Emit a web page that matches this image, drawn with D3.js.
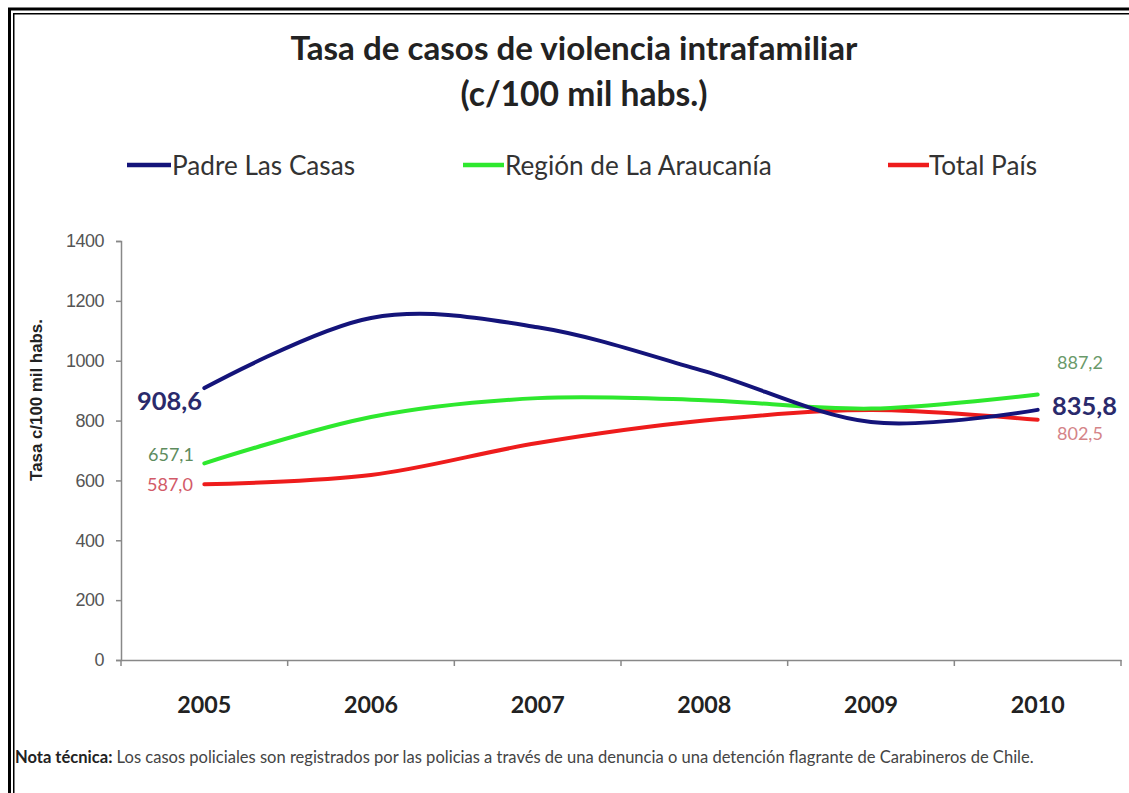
<!DOCTYPE html>
<html><head><meta charset="utf-8">
<script src="https://cdn.jsdelivr.net/npm/d3@7"></script>
<style>html,body{margin:0;padding:0;background:#fff;overflow:hidden}</style>
</head><body>
<svg id="c" width="1129" height="793"></svg>
<script>
const years = ["2005","2006","2007","2008","2009","2010"];
const padreLasCasas = [908.6, 1143, 1112, 965, 795, 835.8];
const regionAraucania = [657.1, 812, 875, 868, 840, 887.2];
const totalPais = [587.0, 618, 725, 800, 835, 802.5];
const seriesNames = ["Padre Las Casas", "Región de La Araucanía", "Total País"];
const yTicks = [0, 200, 400, 600, 800, 1000, 1200, 1400];
const startLabels = ["908,6", "657,1", "587,0"];
const endLabels = ["835,8", "887,2", "802,5"];

const svg = d3.select("#c");
const W = 1129, H = 793;
const FONT = "Lato, 'Open Sans', sans-serif";

function fit(sel, w) {
  const n = sel.node();
  const cur = parseFloat(sel.attr("font-size"));
  const len = n.getComputedTextLength();
  if (len > 0) sel.attr("font-size", (cur * w / len).toFixed(2));
  return sel;
}

// border
svg.append("rect").attr("x", 9.5).attr("y", 9).attr("width", W + 20).attr("height", H + 20)
  .attr("fill", "none").attr("stroke", "#000").attr("stroke-width", 3);
svg.append("rect").attr("x", 13.75).attr("y", 13.75).attr("width", W + 20).attr("height", H + 20)
  .attr("fill", "none").attr("stroke", "#000").attr("stroke-width", 1.5);

// title
fit(svg.append("text").attr("x", 574).attr("y", 47).attr("text-anchor", "middle")
  .attr("dominant-baseline", "central").attr("font-family", FONT).attr("font-weight", "bold")
  .attr("font-size", 27).attr("fill", "#222").text("Tasa de casos de violencia intrafamiliar"), 567);
fit(svg.append("text").attr("x", 584).attr("y", 93).attr("text-anchor", "middle")
  .attr("dominant-baseline", "central").attr("font-family", FONT).attr("font-weight", "bold")
  .attr("font-size", 27).attr("fill", "#222").text("(c/100 mil habs.)"), 247);

const x = d3.scaleBand().domain(years).range([121, 1121]);
const y = d3.scaleLinear().domain([0, 1400]).range([660, 241]);

const colors = ["#14147a", "#2ee82e", "#ee1c1c"];
const data = [padreLasCasas, regionAraucania, totalPais];

// legend
const t0 = fit(svg.append("text").attr("x", 172).attr("y", 165).attr("dominant-baseline", "central")
  .attr("font-family", FONT).attr("font-size", 22).attr("fill", "#333").text(seriesNames[0]), 183);
const lfs = t0.attr("font-size");
svg.append("text").attr("x", 505).attr("y", 165).attr("dominant-baseline", "central")
  .attr("font-family", FONT).attr("font-size", lfs).attr("fill", "#333").text(seriesNames[1]);
const t2 = svg.append("text").attr("x", 1037).attr("y", 165).attr("dominant-baseline", "central")
  .attr("text-anchor", "end").attr("font-family", FONT).attr("font-size", lfs).attr("fill", "#333").text(seriesNames[2]);
const t2start = 1037 - t2.node().getComputedTextLength();
const legendLines = [[127, 171], [463, 504], [t2start - 41, t2start]];
legendLines.forEach((l, i) => {
  svg.append("line").attr("x1", l[0]).attr("x2", l[1]).attr("y1", 165).attr("y2", 165)
    .attr("stroke", colors[i]).attr("stroke-width", 4.5);
});

// y axis
const yAxis = svg.append("g").attr("transform", "translate(121,0)")
  .call(d3.axisLeft(y).tickValues(yTicks).tickSize(5).tickPadding(12).tickFormat(d3.format("d")));
yAxis.select(".domain").attr("stroke", "#888").attr("stroke-width", 1.5);
yAxis.selectAll(".tick line").attr("stroke", "#888").attr("stroke-width", 1.5);
yAxis.selectAll(".tick text").attr("font-family", "'Liberation Sans', Arial, sans-serif")
  .attr("font-size", 16).attr("fill", "#555");
{
  const n = yAxis.select(".tick:last-of-type text").node();
  const len = n.getComputedTextLength();
  yAxis.selectAll(".tick text").attr("font-size", (16 * 40 / len).toFixed(2)).attr("letter-spacing", "-0.5");
}

// x axis
const xAxis = svg.append("g").attr("transform", "translate(0,660)")
  .call(d3.axisBottom(x).tickSize(0).tickPadding(0).tickFormat(""));
xAxis.select(".domain").attr("stroke", "#888").attr("stroke-width", 1.5);
xAxis.selectAll(".tick").remove();
const bounds = years.map(d => x(d)).concat([x.range()[1]]);
xAxis.selectAll("line.b").data(bounds).join("line").attr("class", "b")
  .attr("x1", d => d).attr("x2", d => d).attr("y1", 0).attr("y2", 6)
  .attr("stroke", "#888").attr("stroke-width", 1.5);
years.forEach(yr => {
  fit(svg.append("text").attr("x", x(yr) + x.bandwidth() / 2).attr("y", 704)
    .attr("text-anchor", "middle").attr("dominant-baseline", "central")
    .attr("font-family", FONT).attr("font-weight", "bold").attr("font-size", 20)
    .attr("fill", "#222").text(yr), 54);
});

// y axis title
fit(svg.append("text").attr("transform", "translate(36,400) rotate(-90)")
  .attr("text-anchor", "middle").attr("dominant-baseline", "central")
  .attr("font-family", "'Liberation Sans', Arial, sans-serif").attr("font-weight", "bold")
  .attr("font-size", 12).attr("fill", "#222").text("Tasa c/100 mil habs."), 162);

// lines
const cx = d => x(d) + x.bandwidth() / 2;
const line = d3.line().x((v, i) => cx(years[i])).y(v => y(v)).curve(d3.curveCardinal.tension(0));
[2, 1, 0].forEach(i => {
  svg.append("path").attr("d", line(data[i])).attr("fill", "none")
    .attr("stroke", colors[i]).attr("stroke-width", 4).attr("stroke-linecap", "round");
});

// data labels
const lab = [
  {t: startLabels[0], x: 137, y: 400, w: 65, c: "#2a2a6c", b: true, s: 20},
  {t: startLabels[1], x: 148, y: 454, w: 46, c: "#5e8c5e", b: false, s: 15},
  {t: startLabels[2], x: 147, y: 484, w: 46, c: "#d25a68", b: false, s: 15},
  {t: endLabels[0], x: 1052, y: 405, w: 65, c: "#2a2a6c", b: true, s: 20},
  {t: endLabels[1], x: 1057, y: 362, w: 46, c: "#6a9a6a", b: false, s: 15},
  {t: endLabels[2], x: 1057, y: 433, w: 46, c: "#d48488", b: false, s: 15}
];
lab.forEach(l => {
  fit(svg.append("text").attr("x", l.x).attr("y", l.y).attr("dominant-baseline", "central")
    .attr("font-family", FONT).attr("font-weight", l.b ? "bold" : "normal").attr("font-size", l.s)
    .attr("fill", l.c).text(l.t), l.w);
});

// note
const note = svg.append("text").attr("x", 15).attr("y", 757).attr("dominant-baseline", "central")
  .attr("font-family", FONT).attr("font-size", 11).attr("fill", "#444");
note.append("tspan").attr("font-weight", "bold").attr("fill", "#222").text("Nota técnica:");
note.append("tspan").text(" Los casos policiales son registrados por las policias a través de una denuncia o una detención flagrante de Carabineros de Chile.");
fit(note, 1020);
</script>
</body></html>
